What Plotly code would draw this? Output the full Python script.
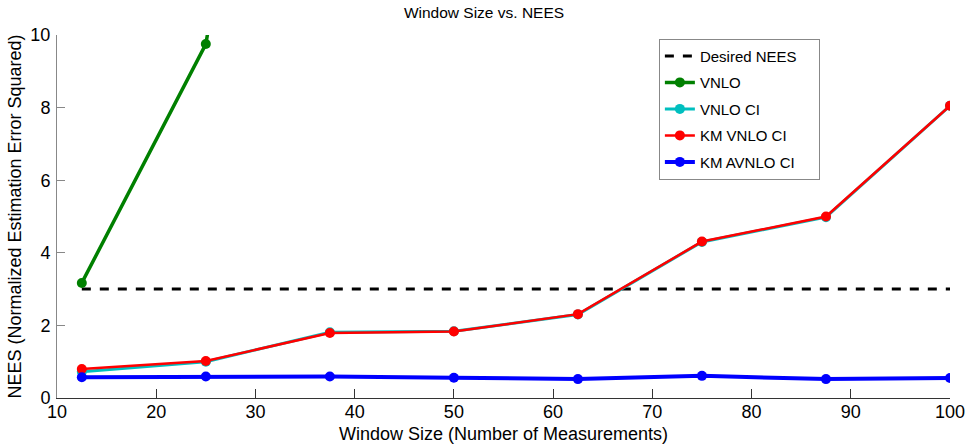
import plotly.graph_objects as go

# window sizes (number of measurements)
window = [12.5, 25, 37.5, 50, 62.5, 75, 87.5, 100]

# NEES per estimator
desired_nees = [3.0] * len(window)
vnlo = [3.17, 9.75, 30.0]                 # last point runs off the top of the axes
vnlo_ci = [0.72, 1.0, 1.81, 1.84, 2.30, 4.30, 4.98, 8.05]
km_vnlo_ci = [0.80, 1.02, 1.79, 1.83, 2.31, 4.31, 5.00, 8.05]
km_avnlo_ci = [0.57, 0.59, 0.59, 0.56, 0.52, 0.61, 0.52, 0.55]

FONT = "Liberation Sans, Arial, sans-serif"
PAD = "\u00a0" * 4   # widen the legend box a little, like the matlab one

fig = go.Figure()

fig.add_trace(go.Scatter(x=window, y=desired_nees, mode="lines", name="Desired NEES" + PAD,
                         line=dict(color="black", width=3, dash="dash"),
                         legendgroup="a"))
fig.add_trace(go.Scatter(x=window[:len(vnlo)], y=vnlo, mode="lines+markers", name="VNLO",
                         line=dict(color="#008000", width=3.5),
                         marker=dict(size=10, color="#008000"), legendgroup="b"))
fig.add_trace(go.Scatter(x=window, y=vnlo_ci, mode="lines+markers", name="VNLO CI",
                         line=dict(color="#00BFBF", width=3),
                         marker=dict(size=10, color="#00BFBF"), legendgroup="c"))
fig.add_trace(go.Scatter(x=window, y=km_vnlo_ci, mode="lines+markers", name="KM VNLO CI",
                         line=dict(color="#FF0000", width=2.5),
                         marker=dict(size=10, color="#FF0000"), legendgroup="d"))
fig.add_trace(go.Scatter(x=window, y=km_avnlo_ci, mode="lines+markers", name="KM AVNLO CI",
                         line=dict(color="#0000FF", width=4),
                         marker=dict(size=10, color="#0000FF"), legendgroup="e"))

fig.update_layout(
    width=968, height=445,
    margin=dict(l=57, r=18, t=35, b=47, autoexpand=False),
    paper_bgcolor="white", plot_bgcolor="white",
    font=dict(family=FONT, size=16, color="black"),
    title=dict(text="Window Size vs. NEES", x=0.5, xanchor="center",
               y=0.985, yanchor="top", font=dict(size=15.5)),
    showlegend=True,
    legend=dict(x=0.674, y=0.99, xanchor="left", yanchor="top",
                bordercolor="#888888", borderwidth=1, bgcolor="white",
                font=dict(size=15), tracegroupgap=4,
                itemwidth=30),
)

fig.update_xaxes(range=[10, 100], dtick=10, showgrid=False, zeroline=False,
                 showline=True, linecolor="#333333", linewidth=1, automargin=False,
                 ticks="inside", ticklen=9, tickcolor="#333333", tickfont=dict(size=18),
                 ticklabeloverflow="allow", ticklabelstandoff=-3,
                 title=dict(text="Window Size (Number of Measurements)", standoff=6,
                            font=dict(size=18)))
fig.update_yaxes(range=[0, 10], dtick=2, showgrid=False, zeroline=False,
                 showline=True, linecolor="#888888", linewidth=1, automargin=False,
                 ticks="inside", ticklen=8, tickcolor="#888888", tickfont=dict(size=18),
                 ticklabelstandoff=2,
                 title=dict(text="NEES (Normalized Estimation Error Squared)", standoff=4,
                            font=dict(size=18)))

# drop the default page margin so the figure fills the window exactly
fig.write_html("out.html", config={"displayModeBar": False},
               post_script="document.body.style.margin='0px';")
